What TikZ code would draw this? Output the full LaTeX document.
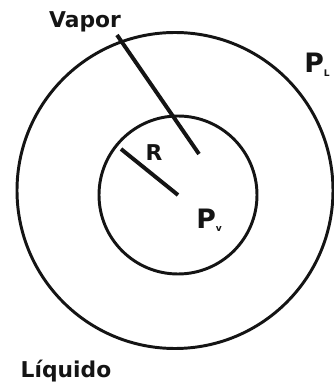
\documentclass[tikz,border=0pt]{standalone}
\usepackage{fontspec}
\setmainfont{DejaVu Sans}
\usepackage{tkz-euclide}
\usetikzlibrary{calc}
\definecolor{LineClr}{rgb}{0.08,0.08,0.08}

\begin{document}
\begin{tikzpicture}
\useasboundingbox (0,0) rectangle (8.35,9.575);

\tkzDefPoints{4.375/4.8125/O,8.325/4.8125/A}
\tkzDefPoints{4.45/4.7/C,6.425/4.7/B}
\tkzDefPoints{2.925/8.7/V1,4.975/5.725/V2,3.025/5.85/R1}

\tkzDrawCircle[line width=2.1pt,color=LineClr](O,A)
\tkzDrawCircle[line width=2.1pt,color=LineClr](C,B)

\draw[line width=2.8pt,color=LineClr] (V1) -- (V2);
\draw[line width=2.8pt,color=LineClr] (R1) -- (C);

\tikzset{lbl/.style={font=\bfseries\fontsize{15.5}{18}\selectfont,text=LineClr,inner sep=0pt},
  plbl/.style={lbl,font=\bfseries\fontsize{19}{22}\selectfont}}
\node[lbl] (vapor) at (2.125,9.025) {Vapor};
\node[plbl,anchor=west] (pl) at (7.6,7.95) {P\textsubscript{\fontsize{6.5}{7}\selectfont L}};
\node[plbl,anchor=west] (pv) at (4.9,4.07) {P\textsubscript{\fontsize{6.5}{7}\selectfont v}};
\node[lbl] (r) at (3.85,5.75) {R};
\node[lbl] (liq) at (1.65,0.3) {Líquido};

\end{tikzpicture}
\end{document}
